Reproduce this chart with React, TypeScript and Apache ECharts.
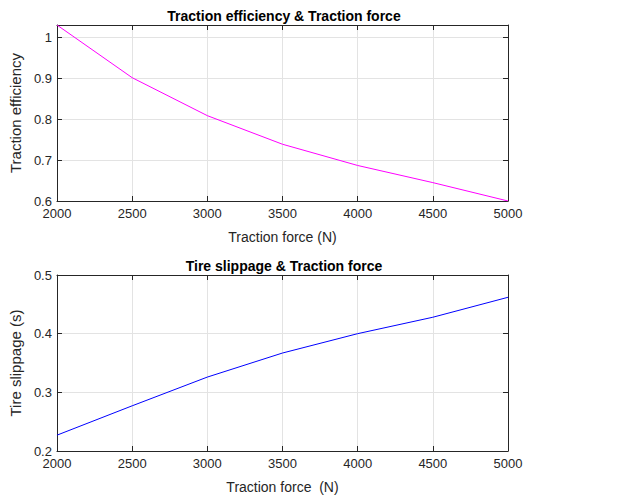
import React, { useEffect, useRef } from "react";
import * as echarts from "echarts";

const forces = [2000, 2500, 3000, 3500, 4000, 4500, 5000];
const efficiency = [1.031, 0.902, 0.809, 0.739, 0.687, 0.645, 0.6];
const slippage = [0.227, 0.277, 0.326, 0.367, 0.4, 0.428, 0.462];
const xTicks = [2000, 2500, 3000, 3500, 4000, 4500, 5000];

const FONT = "Arial, 'Liberation Sans', Helvetica, sans-serif";
const TXT = "#262626";

export default function App() {
  const ref = useRef<HTMLDivElement>(null);
  useEffect(() => {
    if (!ref.current) return;
    const chart = echarts.init(ref.current, undefined, { renderer: "svg" });
    const gridDefs = [
      { left: 49, top: 25, width: 459, height: 176 },
      { left: 49, top: 275, width: 459, height: 176 },
    ];
    const xBase = (gi: number, name: string) => ({
      type: "value",
      gridIndex: gi,
      min: xTicks[0],
      max: xTicks[xTicks.length - 1],
      interval: 500,
      name,
      nameLocation: "middle",
      nameGap: 29,
      nameTextStyle: { fontFamily: FONT, fontSize: 14, color: TXT },
      axisLine: { show: true, lineStyle: { color: "#262626", width: 1 } },
      axisTick: { show: true, inside: true, length: 5, lineStyle: { color: "#262626" } },
      axisLabel: {
        fontFamily: FONT,
        fontSize: 13,
        color: TXT,
        margin: 6,
        formatter: (v: number) => String(v),
      },
      splitLine: { show: true, lineStyle: { color: "#e3e3e3", width: 1 } },
    });
    const xMirror = (gi: number) => ({
      type: "value",
      gridIndex: gi,
      position: "top",
      min: xTicks[0],
      max: xTicks[xTicks.length - 1],
      interval: 500,
      axisLine: { show: true, lineStyle: { color: "#262626", width: 1 } },
      axisTick: { show: true, inside: true, length: 5, lineStyle: { color: "#262626" } },
      axisLabel: { show: false },
      splitLine: { show: false },
    });
    const yBase = (gi: number, name: string, min: number, max: number) => ({
      type: "value",
      gridIndex: gi,
      min,
      max,
      interval: 0.1,
      name,
      nameLocation: "middle",
      nameGap: 20,
      nameTextStyle: { fontFamily: FONT, fontSize: 15, color: TXT },
      axisLine: { show: true, lineStyle: { color: "#262626", width: 1 } },
      axisTick: { show: true, inside: true, length: 5, lineStyle: { color: "#262626" } },
      axisLabel: {
        fontFamily: FONT,
        fontSize: 13,
        color: TXT,
        margin: 5,
        padding: [0, 0, 4, 0],
        showMaxLabel: max === 0.5,
        formatter: (v: number) => String(Math.round(v * 10) / 10),
      },
      splitLine: { show: true, lineStyle: { color: "#e3e3e3", width: 1 } },
    });
    const yMirror = (gi: number, min: number, max: number) => ({
      type: "value",
      gridIndex: gi,
      position: "right",
      min,
      max,
      interval: 0.1,
      axisLine: { show: true, lineStyle: { color: "#262626", width: 1 } },
      axisTick: { show: true, inside: true, length: 5, lineStyle: { color: "#262626" } },
      axisLabel: { show: false },
      splitLine: { show: false },
    });
    chart.setOption({
      animation: false,
      backgroundColor: "#ffffff",
      title: [
        {
          text: "Traction efficiency & Traction force",
          left: 279,
          top: 4,
          textAlign: "center",
          textStyle: { fontFamily: FONT, fontSize: 14, fontWeight: "bold", color: "#000" },
        },
        {
          text: "Tire slippage & Traction force",
          left: 279,
          top: 254,
          textAlign: "center",
          textStyle: { fontFamily: FONT, fontSize: 14, fontWeight: "bold", color: "#000" },
        },
      ],
      grid: gridDefs,
      xAxis: [
        xBase(0, "Traction force (N)"),
        xMirror(0),
        xBase(1, "Traction force  (N)"),
        xMirror(1),
      ],
      yAxis: [
        yBase(0, "Traction efficiency", 0.6, 1.031),
        yMirror(0, 0.6, 1.031),
        yBase(1, "Tire slippage (s)", 0.2, 0.5),
        yMirror(1, 0.2, 0.5),
      ],
      series: [
        {
          type: "line",
          xAxisIndex: 0,
          yAxisIndex: 0,
          data: forces.map((f, i) => [f, efficiency[i]]),
          showSymbol: false,
          symbol: "none",
          lineStyle: { color: "#ff00ff", width: 1 },
          itemStyle: { color: "#ff00ff" },
        },
        {
          type: "line",
          xAxisIndex: 2,
          yAxisIndex: 2,
          data: forces.map((f, i) => [f, slippage[i]]),
          showSymbol: false,
          symbol: "none",
          lineStyle: { color: "#0000ff", width: 1 },
          itemStyle: { color: "#0000ff" },
        },
      ],
    });
    return () => chart.dispose();
  }, []);
  return (
    <div
      ref={ref}
      style={{ position: "fixed", left: 0, top: 0, width: 618, height: 501, background: "#fff" }}
    />
  );
}
